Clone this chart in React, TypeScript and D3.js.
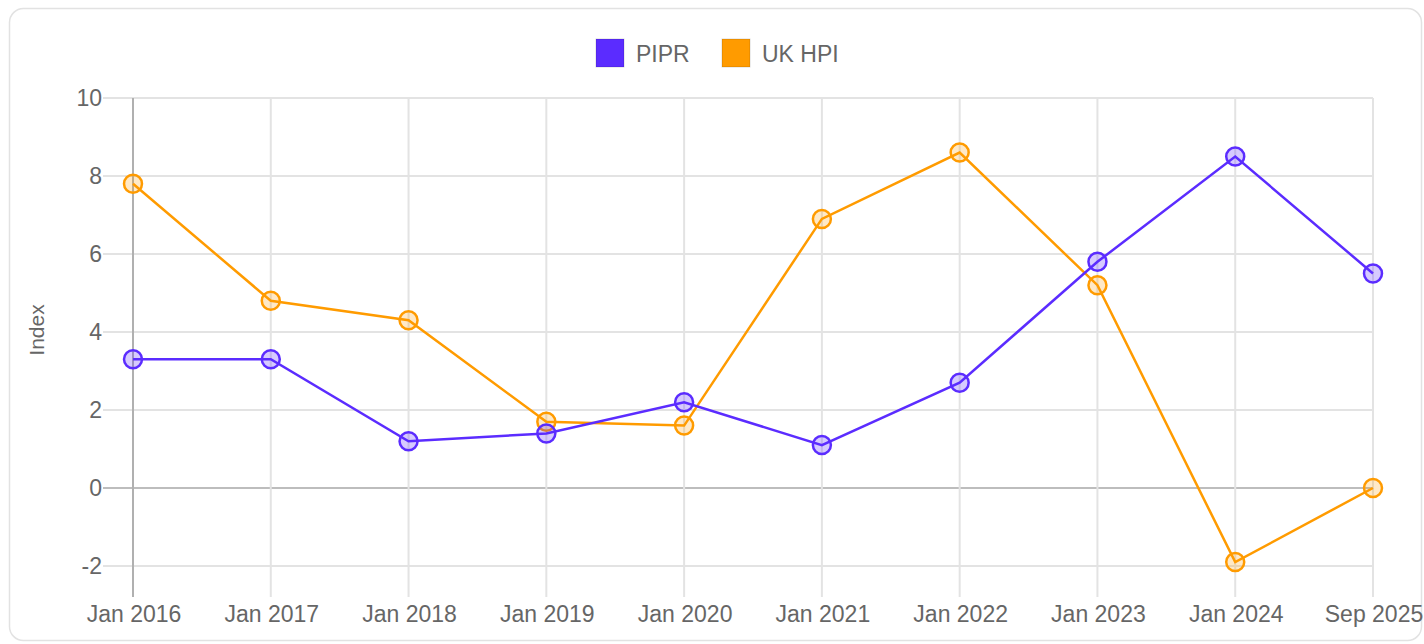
import React from 'react';
import * as d3 from 'd3';

const categories = ['Jan 2016', 'Jan 2017', 'Jan 2018', 'Jan 2019', 'Jan 2020', 'Jan 2021', 'Jan 2022', 'Jan 2023', 'Jan 2024', 'Sep 2025'];
const pipr = [3.3, 3.3, 1.2, 1.4, 2.2, 1.1, 2.7, 5.8, 8.5, 5.5];
const ukHpi = [7.8, 4.8, 4.3, 1.7, 1.6, 6.9, 8.6, 5.2, -1.9, 0];
const yTicks = [-2, 0, 2, 4, 6, 8, 10];

const series = [
  { name: 'UK HPI', values: ukHpi, color: '#ff9b00', fill: 'rgba(255,155,0,0.22)' },
  { name: 'PIPR', values: pipr, color: '#5b2cff', fill: 'rgba(91,44,255,0.25)' },
];
const legend = [
  { name: 'PIPR', color: '#5b2cff' },
  { name: 'UK HPI', color: '#ff9b00' },
];

const W = 1424;
const H = 644;
const margin = { top: 98, right: 51, bottom: 78, left: 133 };
const font = '"Liberation Sans", Arial, sans-serif';
const textColor = '#666';

export default function App() {
  const x = d3
    .scalePoint<string>()
    .domain(categories)
    .range([margin.left, W - margin.right]);
  const y = d3
    .scaleLinear()
    .domain([-2, 10])
    .range([H - margin.bottom, margin.top]);

  const line = d3
    .line<number>()
    .x((d, i) => x(categories[i]) as number)
    .y(d => y(d));

  const tickLen = 30;
  const top = y(10);
  const bottom = y(-2);
  const left = x(categories[0]) as number;
  const right = x(categories[categories.length - 1]) as number;

  return (
    <svg
      width={W}
      height={H}
      style={{ position: 'absolute', left: 0, top: 0, background: '#fff', fontFamily: font }}
    >
      {/* card */}
      <rect x={9.5} y={8.5} width={1412} height={632} rx={14} fill="#fff" stroke="#e2e2e2" strokeWidth={1.5} />

      {/* legend */}
      {legend.map((l, i) => {
        const lx = i === 0 ? 596 : 722;
        return (
          <g key={l.name}>
            <rect x={lx} y={39} width={28} height={28} fill={l.color} stroke="rgba(0,0,0,0.15)" strokeWidth={1} />
            <text x={lx + 40} y={62} fontSize={23} fill={textColor}>{l.name}</text>
          </g>
        );
      })}

      {/* horizontal grid */}
      {yTicks.map(t => (
        <g key={t}>
          <line
            x1={left - tickLen}
            x2={right}
            y1={y(t)}
            y2={y(t)}
            stroke={t === 0 ? '#bdbdbd' : '#e3e3e3'}
            strokeWidth={2}
          />
          <text x={102} y={y(t)} dy="0.35em" textAnchor="end" fontSize={23} fill={textColor}>
            {t}
          </text>
        </g>
      ))}

      {/* vertical grid */}
      {categories.map((c, i) => (
        <g key={c}>
          <line
            x1={x(c)}
            x2={x(c)}
            y1={top}
            y2={bottom + tickLen + 1}
            stroke={i === 0 ? '#b0b0b0' : '#e3e3e3'}
            strokeWidth={2}
          />
          <text x={(x(c) as number) + 1} y={622} textAnchor="middle" fontSize={23} fill={textColor}>
            {c}
          </text>
        </g>
      ))}

      {/* y title */}
      <text
        transform={`translate(44, ${(top + bottom) / 2 - 2}) rotate(-90)`}
        textAnchor="middle"
        fontSize={21}
        fill={textColor}
      >
        Index
      </text>

      {/* series */}
      {series.map(s => (
        <g key={s.name}>
          <path d={line(s.values) || ''} fill="none" stroke={s.color} strokeWidth={2.5} />
          {s.values.map((v, i) => (
            <circle
              key={i}
              cx={x(categories[i])}
              cy={y(v)}
              r={9}
              fill={s.fill}
              stroke={s.color}
              strokeWidth={2.5}
            />
          ))}
        </g>
      ))}
    </svg>
  );
}
